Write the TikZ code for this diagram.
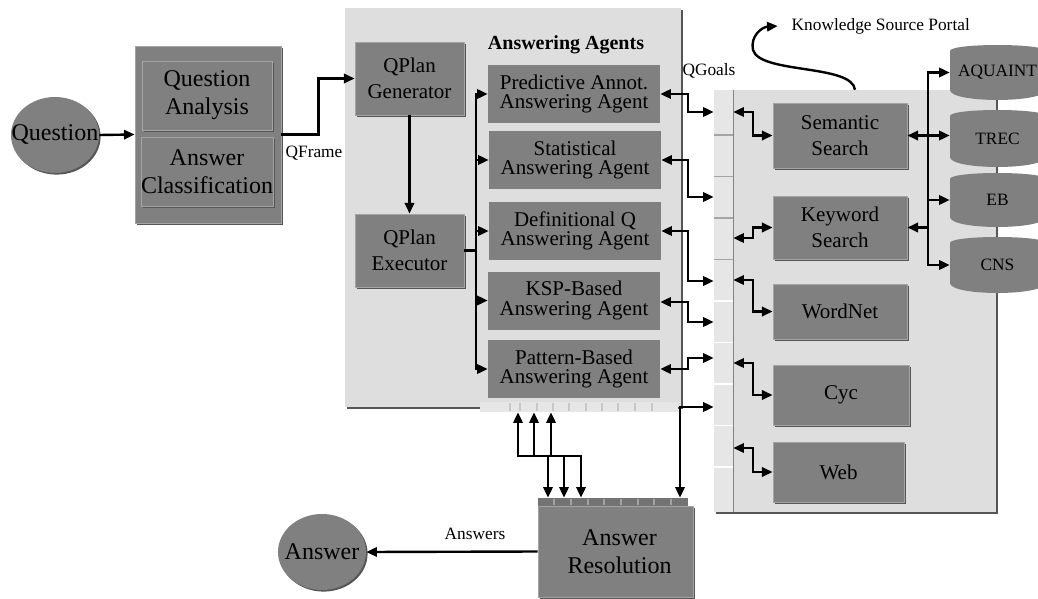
\documentclass[tikz,border=0pt]{standalone}
\usepackage{fontspec}
\setmainfont{Liberation Serif}
\usetikzlibrary{positioning, calc, shapes.geometric, arrows.meta}
\definecolor{QaBox}{HTML}{808080}
\definecolor{QaPanel}{HTML}{DEDEDE}
\definecolor{QaStrip}{HTML}{E6E6E6}
\definecolor{QaShade}{HTML}{555555}
\definecolor{QaEdge}{HTML}{A4A4A4}

\begin{document}
\begin{tikzpicture}[x=0.75pt, y=-0.75pt,
    bigtxt/.style={font=\fontsize{18}{21}\selectfont, align=center},
    midtxt/.style={font=\fontsize{15.75}{19.5}\selectfont, align=center},
    lbl/.style={font=\fontsize{13}{15}\selectfont},
    shade/.style={preaction={fill=QaShade, transform canvas={xshift=1.2pt, yshift=-1.2pt}}},
    box/.style={rectangle, fill=QaBox, draw=QaEdge, line width=0.6pt, inner sep=0pt, shade},
    agent/.style={rectangle, fill=QaBox, inner sep=0pt, minimum width=129pt, minimum height=43.5pt,
      font=\fontsize{15.75}{14.6}\selectfont, align=center},
    oval/.style={ellipse, fill=QaBox, inner sep=0pt, minimum width=66pt, minimum height=57pt, shade},
    panel/.style={rectangle, fill=QaPanel, inner sep=0pt, shade},
    dbase/.style={rectangle, inner sep=0pt, minimum width=71.25pt, font=\fontsize{13}{15}\selectfont},
    arr/.style={-{Triangle[length=8pt,width=7pt]}, line width=1.8pt},
    arrb/.style={{Triangle[length=8pt,width=7pt]}-{Triangle[length=8pt,width=7pt]}, line width=1.8pt}]
  \useasboundingbox (0,0) rectangle (1038,599);
  \fill[white] (0,0) rectangle (1038,599);

  % Panels
  \node[panel, minimum width=252pt, minimum height=299.25pt] (agpanel) at (513,207.5) {};
  \node[panel, minimum width=211.5pt, minimum height=316.5pt] (ksp) at (855,301) {};
  \node[rectangle, fill=QaStrip, inner sep=0pt, minimum width=148.5pt, minimum height=7.5pt] (agstrip) at (579,407) {};
  \node[rectangle, fill=QaStrip, inner sep=0pt, minimum width=14.25pt, minimum height=316.5pt] (kspstrip) at (723.5,301) {};
  \foreach \x in {510,520,537,553,569,586,602,618,635,652}
    \draw[QaEdge!60, line width=0.8pt] (\x,403) -- (\x,411);
  \foreach \y in {135,176.5,218,259.5}
    \draw[QaEdge, line width=0.8pt] (714,\y) -- (733,\y);
  \foreach \y in {301,342.5,384,425.5,467}
    \draw[white, line width=0.8pt] (714,\y) -- (733,\y);
  \draw[QaEdge!80!black, line width=0.8pt] (kspstrip.north east) -- (kspstrip.south east);

  % Question side
  \node[oval] (question) at (55,135) {};
  \node[bigtxt] (questiontxt) at (question) {Question};
  \node[box, minimum width=109.5pt, minimum height=132.75pt] (qabox) at (208,134.5) {};
  \node[box, bigtxt, minimum width=97.5pt, minimum height=51.75pt] (qanalysis) at (207,95.5) {Question\\Analysis};
  \node[box, bigtxt, minimum width=97.5pt, minimum height=51.75pt] (aclass) at (207,171.5) {Answer\\Classification};

  % QPlan
  \node[box, midtxt, minimum width=81.75pt, minimum height=54.75pt] (qgen) at (409.5,78.5) {QPlan\\Generator};
  \node[box, midtxt, minimum width=81.75pt, minimum height=54.75pt] (qexec) at (409.5,250.5) {QPlan\\Executor};

  % Answering agents
  \node[font=\fontsize{15}{18}\selectfont\bfseries] (agtitle) at (566,45) {Answering Agents};
  \node[agent] (predictive) at (574,94) {Predictive Annot.\\Answering Agent};
  \node[agent] (statistical) at (575,160) {Statistical\\Answering Agent};
  \node[agent] (definitional) at (575,231) {Definitional Q\\Answering Agent};
  \node[agent] (kspbased) at (574,300.5) {KSP-Based\\Answering Agent};
  \node[agent] (pattern) at (574,369) {Pattern-Based\\Answering Agent};

  % Knowledge sources
  \node[box, midtxt, minimum width=100.5pt, minimum height=48.75pt] (semantic) at (840,135.5) {Semantic\\Search};
  \node[box, midtxt, minimum width=100.5pt, minimum height=47.25pt] (keyword) at (840,227.5) {Keyword\\Search};
  \node[box, midtxt, minimum width=100.5pt, minimum height=41.25pt] (wordnet) at (840,311.5) {WordNet};
  \node[box, midtxt, minimum width=102pt, minimum height=45pt] (cyc) at (841,395) {Cyc};
  \node[box, midtxt, minimum width=98.25pt, minimum height=45pt] (web) at (838.5,472) {Web};
  \foreach \nm/\yt/\yb/\txt in {aquaint/45/100/AQUAINT, trec/110/167/TREC, eb/173/227/EB, cns/237/293/CNS} {
    \fill[QaBox] (950,\yt+6) .. controls (950,\yt-2) and (1045,\yt-2) .. (1045,\yt+6)
      -- (1045,\yb-10) .. controls (1045,\yb+3.3) and (950,\yb+3.3) .. (950,\yb-10) -- cycle;
    \node[dbase] (\nm) at (997.5,{(\yt+\yb)/2}) {\txt};
  }
  \node[lbl, anchor=west] (ksplbl) at (787,26) {Knowledge Source Portal};

  % Answer side
  \node[box, bigtxt, minimum width=116.25pt, minimum height=68.25pt] (arbox) at (615.5,551.5) {\hspace*{6pt}Answer\\\hspace*{6pt}Resolution};
  \node[rectangle, fill=QaBox!90!black, inner sep=0pt, minimum width=112.5pt, minimum height=6pt] (arstrip) at (613,502) {};
  \foreach \x in {554,571,588,604,621,638,654,671}
    \draw[QaEdge, line width=0.8pt] (\x,499) -- (\x,505);
  \node[oval] (answer) at (322,552) {};
  \node[bigtxt] (answertxt) at (answer) {Answer};

  % Labels
  \node[lbl] (qframelbl) at (314,153) {QFrame};
  \node[lbl] (qgoalslbl) at (709,71) {QGoals};
  \node[lbl] (answerslbl) at (475,534) {Answers};

  % Arrows
  \draw[arr] (question.east) -- (qabox.west);
  \draw[arr] (qabox.east) -- ++(37,0) |- (qgen.west);
  \draw[arr] (qgen) -- (qexec);
  \coordinate (bus) at (476,250.5);
  \foreach \ag in {predictive,statistical,definitional,kspbased,pattern}
    \draw[arr] (qexec.east) -- (bus) |- (\ag.west);
  \draw[arrb] (predictive.east) -- ++(28,0) |- (kspstrip.west |- 0,112);
  \draw[arrb] (statistical.east) -- ++(27,0) |- (kspstrip.west |- 0,197);
  \draw[arrb] (definitional.east) -- ++(27,0) |- (kspstrip.west |- 0,281);
  \draw[arrb] (kspbased.east |- 0,302) -- ++(28,0) |- (kspstrip.west |- 0,322);
  \draw[arrb] (pattern.east) -- ++(28,0) |- (kspstrip.west |- 0,358);
  \draw[arrb] (kspstrip.east |- 0,112) -- ++(20,0) |- (semantic.west);
  \draw[arrb] (kspstrip.east |- 0,238) -- ++(20,0) |- (keyword.west);
  \draw[arrb] (kspstrip.east |- 0,280) -- ++(20,0) |- (wordnet.west);
  \draw[arrb] (kspstrip.east |- 0,363) -- ++(20,0) |- (cyc.west);
  \draw[arrb] (kspstrip.east |- 0,448) -- ++(20,0) |- (web.west);
  \draw[arrb] (semantic.east) -- (semantic.east -| trec.west);
  \draw[arr] (semantic.east -| 928,0) |- (aquaint.west);
  \draw[arr] (semantic.east -| 928,0) |- (eb.west);
  \draw[arr] (semantic.east -| 928,0) |- (cns.west);
  \draw[arr] (keyword.east -| 928,0) -- (keyword.east);
  \draw[arr] (ksp.north) .. controls (852,64) and (760,74) .. (753,50)
    .. controls (750,36) and (762,27) .. ([xshift=-7pt]ksplbl.west);
  \foreach \d/\u in {548/518, 564/534, 581/551}
    \draw[arrb] (arstrip.north -| \d,0) -- (\d,456) -| (agstrip.south -| \u,0);
  \draw[arrb] (arstrip.north -| 680,0) |- (kspstrip.west |- 0,407);
  \draw[arr] (arbox.west) -- (answer.east);
\end{tikzpicture}
\end{document}
